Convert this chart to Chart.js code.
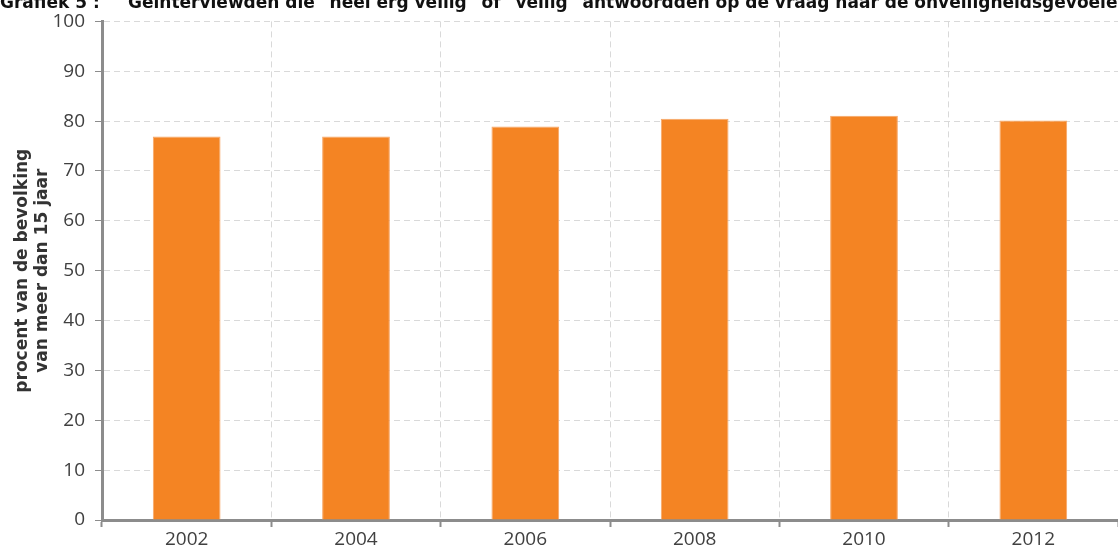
<!DOCTYPE html>
<html>
<head>
<meta charset="utf-8">
<script src="https://cdn.jsdelivr.net/npm/chart.js@4/dist/chart.umd.min.js"></script>
<style>
html,body{margin:0;padding:0;background:#fff;}
#wrap{width:1118px;height:552px;position:relative;}
</style>
</head>
<body>
<div id="wrap"><canvas id="c" width="1118" height="552"></canvas></div>
<script>
const titleLabel = 'Grafiek 5 :';
const titleText = 'Geïnterviewden die "heel erg veilig" of "veilig" antwoordden op de vraag naar de onveiligheidsgevoelens';
const categories = ['2002', '2004', '2006', '2008', '2010', '2012'];
const values = [76.9, 76.9, 78.9, 80.5, 81.1, 80.1];
const yTitle = ['procent van de bevolking', 'van meer dan 15 jaar'];

const topTitle = {
  id: 'topTitle',
  afterDraw(chart) {
    const ctx = chart.ctx;
    ctx.save();
    ctx.font = 'bold 17px "DejaVu Sans"';
    ctx.fillStyle = '#111';
    ctx.textAlign = 'left';
    ctx.textBaseline = 'alphabetic';
    ctx.fillText(titleLabel, 0, 8);
    ctx.fillText(titleText, 128, 8);
    ctx.restore();
  }
};

new Chart(document.getElementById('c'), {
  type: 'bar',
  data: {
    labels: categories,
    datasets: [{
      data: values,
      backgroundColor: '#F48423',
      borderColor: '#F7A666',
      borderWidth: 1,
      categoryPercentage: 1,
      barPercentage: 0.4
    }]
  },
  options: {
    responsive: false,
    animation: false,
    layout: { padding: { top: 20, right: 0, left: 0, bottom: 0 } },
    plugins: { legend: { display: false }, tooltip: { enabled: false } },
    scales: {
      x: {
        offset: true,
        grid: {
          offset: true,
          color: '#d9d9d9',
          tickColor: '#8c8c8c',
          tickLength: 7,
          tickWidth: 2
        },
        border: { color: '#8c8c8c', width: 3, dash: [6, 4] },
        ticks: { color: '#404040', font: { family: 'Open Sans', size: 19 }, padding: 1 },
        afterFit(s) { s.height = 32; }
      },
      y: {
        min: 0, max: 100,
        ticks: { stepSize: 10, color: '#404040', font: { family: 'Open Sans', size: 19 }, padding: 10 },
        grid: {
          color: '#d9d9d9',
          tickColor: '#8c8c8c',
          tickLength: 7,
          tickWidth: 1
        },
        border: { color: '#8c8c8c', width: 3, dash: [6, 4] },
        title: {
          display: true,
          text: yTitle,
          color: '#333',
          font: { family: 'DejaVu Sans', size: 17, weight: 'bold', lineHeight: 1.2 },
          padding: { top: 12, bottom: 4 }
        },
        afterFit(s) { s.width = 102; }
      }
    }
  },
  plugins: [topTitle]
});
</script>
</body>
</html>
